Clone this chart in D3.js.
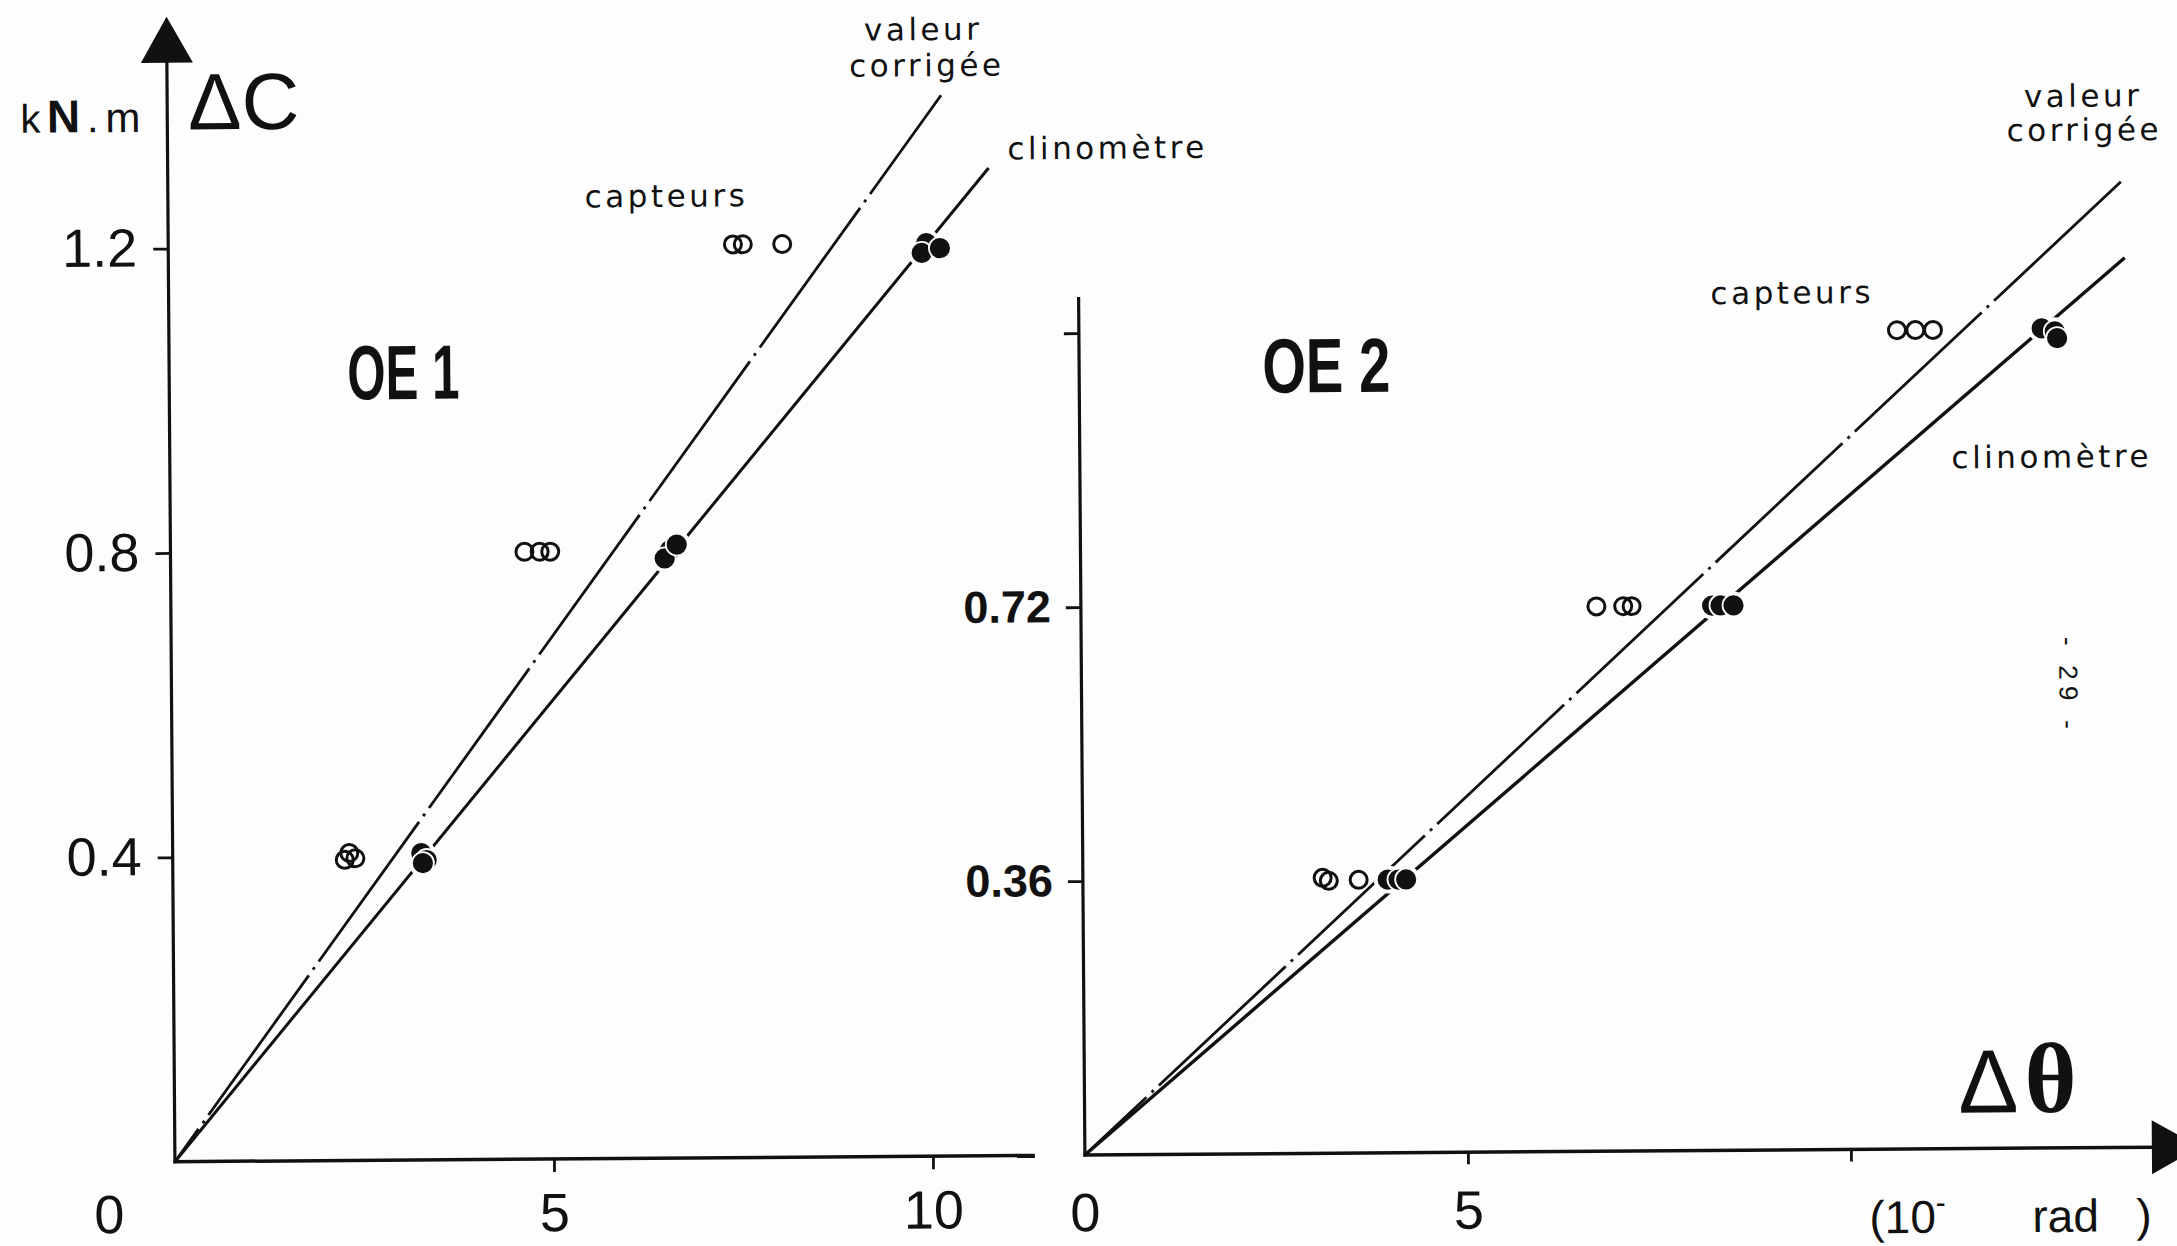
<!DOCTYPE html>
<html>
<head>
  <meta charset="utf-8">
  <title>OE 1 / OE 2</title>
  <script src="https://d3js.org/d3.v7.min.js"></script>
  <style>
    body { margin: 0; background: #fdfdfd; }
    svg { display: block; }
  </style>
</head>
<body>
  <div id="chart"></div>
  <script>
    // ticks
    const xTicksOE1 = [5, 10]
    const yTicksOE1 = [0.4, 0.8, 1.2]
    const xTicksOE2 = [5, 10]
    const xLabelsOE2 = [5]
    const yTicksOE2 = [0.36, 0.72, 1.08]
    const yLabelsOE2 = [0.36, 0.72]

    // OE 1 : [Δθ, ΔC]
    const capteursOE1 = [
      [7.45, 1.2], [7.58, 1.2], [8.1, 1.2],
      [4.67, 0.798], [4.87, 0.798], [5.01, 0.798],
      [2.27, 0.395], [2.33, 0.404], [2.41, 0.397]
    ]
    const clinoOE1 = [
      [10.0, 1.2], [9.94, 1.187], [10.18, 1.193],
      [6.59, 0.799], [6.52, 0.788], [6.68, 0.806],
      [3.28, 0.403], [3.35, 0.394], [3.3, 0.39]
    ]
    const valeurLineOE1 = [[0, 0], [10.21, 1.394]]
    const clinoLineOE1 = [[0, 0], [10.83, 1.298]]

    // OE 2 : [Δθ, ΔC]
    const capteursOE2 = [
      [10.68, 1.076], [10.92, 1.076], [11.15, 1.076],
      [6.73, 0.716], [7.08, 0.716], [7.19, 0.716],
      [3.13, 0.362], [3.21, 0.358], [3.6, 0.359]
    ]
    const clinoOE2 = [
      [12.57, 1.077], [12.74, 1.073], [12.77, 1.064],
      [8.24, 0.716], [8.35, 0.716], [8.52, 0.716],
      [3.98, 0.359], [4.12, 0.359], [4.22, 0.359]
    ]
    const valeurLineOE2 = [[0, 0], [13.67, 1.274]]
    const clinoLineOE2 = [[0, 0], [13.66, 1.169]]

    const W = 2177, H = 1246
    const ink = '#111'
    const paper = '#fdfdfd'
    const hand = "'DejaVu Sans', sans-serif"
    const sans = "'Liberation Sans', Arial, sans-serif"

    const svg = d3.select('#chart').append('svg')
      .attr('width', W)
      .attr('height', H)
    svg.append('rect').attr('width', W).attr('height', H).attr('fill', paper)

    // the scanned page is slightly tilted
    const root = svg.append('g').attr('transform', 'rotate(-0.42 1088 623)')

    const xL = d3.scaleLinear().domain([0, 10]).range([171, 929])
    const yL = d3.scaleLinear().domain([0, 1.2]).range([1155, 241.8])
    const xR = d3.scaleLinear().domain([0, 10]).range([1081, 1847])
    const yR = d3.scaleLinear().domain([0, 1.08]).range([1155, 333.1])

    function styleAxis(g, size, weight) {
      g.select('.domain').remove()
      g.attr('font-family', sans).attr('font-size', size).attr('font-weight', weight)
      g.selectAll('.tick line').attr('stroke', ink).attr('stroke-width', 2.8)
      g.selectAll('.tick text').attr('fill', ink)
    }

    // ---- axes OE 1
    root.append('line')
      .attr('x1', xL(0)).attr('y1', yL(0) + 1.5)
      .attr('x2', xL(0)).attr('y2', 40)
      .attr('stroke', ink).attr('stroke-width', 3.2)
    root.append('path')
      .attr('d', `M${xL(0)},10 L${xL(0) + 26},56 L${xL(0) - 26},56 Z`)
      .attr('fill', ink)
    root.append('line')
      .attr('x1', xL(0) - 1.5).attr('y1', yL(0))
      .attr('x2', 1031).attr('y2', yL(0))
      .attr('stroke', ink).attr('stroke-width', 3.5)

    root.append('g')
      .attr('transform', `translate(${xL(0)},0)`)
      .call(d3.axisLeft(yL).tickValues(yTicksOE1).tickSize(15).tickPadding(16).tickFormat(d3.format('.1f')))
      .call(g => styleAxis(g, 54, 'normal'))

    root.append('g')
      .attr('transform', `translate(0,${yL(0)})`)
      .call(d3.axisBottom(xL).tickValues(xTicksOE1).tickSize(13).tickPadding(21).tickFormat(d3.format('d')))
      .call(g => styleAxis(g, 54, 'normal'))

    root.append('text')
      .attr('x', xL(0) - 66).attr('y', 1226)
      .attr('text-anchor', 'middle')
      .attr('font-family', sans).attr('font-size', 54).attr('fill', ink)
      .text('0')

    // ---- axes OE 2
    root.append('line')
      .attr('x1', xR(0)).attr('y1', yR(0) + 1.5)
      .attr('x2', xR(0)).attr('y2', 297)
      .attr('stroke', ink).attr('stroke-width', 3.2)
    root.append('line')
      .attr('x1', xR(0) - 1.5).attr('y1', yR(0))
      .attr('x2', 2152).attr('y2', yR(0))
      .attr('stroke', ink).attr('stroke-width', 3.5)
    root.append('path')
      .attr('d', `M2196,${yR(0)} L2148,${yR(0) - 27} L2148,${yR(0) + 27} Z`)
      .attr('fill', ink)

    const fmt2 = d3.format('.2f')
    root.append('g')
      .attr('transform', `translate(${xR(0)},0)`)
      .call(d3.axisLeft(yR).tickValues(yTicksOE2).tickSize(15).tickPadding(15)
        .tickFormat(d => yLabelsOE2.includes(d) ? fmt2(d) : ''))
      .call(g => styleAxis(g, 45, 'bold'))

    root.append('g')
      .attr('transform', `translate(0,${yR(0)})`)
      .call(d3.axisBottom(xR).tickValues(xTicksOE2).tickSize(12).tickPadding(26)
        .tickFormat(d => xLabelsOE2.includes(d) ? d3.format('d')(d) : ''))
      .call(g => styleAxis(g, 54, 'normal'))

    root.append('text')
      .attr('x', xR(0)).attr('y', 1231)
      .attr('text-anchor', 'middle')
      .attr('font-family', sans).attr('font-size', 54).attr('fill', ink)
      .text('0')

    // unit of the horizontal axis
    const unit = root.append('text')
      .attr('x', 1865).attr('y', 1239)
      .attr('font-family', sans).attr('font-size', 46).attr('fill', ink)
    unit.append('tspan').text('(10')
    unit.append('tspan').attr('font-size', 30).attr('dy', -20).text('-')
    unit.append('tspan').attr('x', 2028).attr('dy', 20).text('rad')
    unit.append('tspan').attr('x', 2132).text(')')

    // vertical axis title
    const kn = root.append('text')
      .attr('x', 24).attr('y', 125)
      .attr('font-family', sans).attr('fill', ink)
      .attr('textLength', 120).attr('lengthAdjust', 'spacing')
    kn.append('tspan').attr('font-size', 40).text('k')
    kn.append('tspan').attr('font-size', 46).attr('font-weight', 'bold').text('N')
    kn.append('tspan').attr('font-size', 42).text('.m')

    root.append('text')
      .attr('x', 192).attr('y', 123)
      .attr('font-family', sans).attr('font-size', 80).attr('fill', ink)
      .text('ΔC')

    // ---- series
    function drawPanel(p) {
      const g = root.append('g')
      const line = d3.line().x(d => p.x(d[0])).y(d => p.y(d[1]))

      g.append('path').datum(p.valeurLine)
        .attr('d', line)
        .attr('fill', 'none').attr('stroke', ink).attr('stroke-width', 2.8)
        .attr('stroke-dasharray', p.dash).attr('stroke-dashoffset', p.dashOffset)

      g.append('path').datum(p.clinoLine)
        .attr('d', line)
        .attr('fill', 'none').attr('stroke', ink).attr('stroke-width', p.clinoWidth)

      g.selectAll('circle.halo').data(p.clino).join('circle')
        .attr('class', 'halo')
        .attr('cx', d => p.x(d[0])).attr('cy', d => p.y(d[1]))
        .attr('r', 14).attr('fill', paper)

      g.selectAll('circle.clino').data(p.clino).join('circle')
        .attr('class', 'clino')
        .attr('cx', d => p.x(d[0])).attr('cy', d => p.y(d[1]))
        .attr('r', 11).attr('fill', ink)
        .attr('stroke', paper).attr('stroke-width', 1.8)

      g.selectAll('circle.capt').data(p.capteurs).join('circle')
        .attr('class', 'capt')
        .attr('cx', d => p.x(d[0])).attr('cy', d => p.y(d[1]))
        .attr('r', 8.5).attr('fill', 'none')
        .attr('stroke', ink).attr('stroke-width', 3)

      // panel name
      g.append('text')
        .attr('x', p.x(p.name.at[0])).attr('y', p.y(p.name.at[1]))
        .attr('font-family', "'Liberation Sans Narrow', 'Liberation Sans', sans-serif")
        .attr('font-weight', 'bold').attr('font-size', 77).attr('fill', ink)
        .attr('textLength', p.name.len).attr('lengthAdjust', 'spacingAndGlyphs')
        .text(p.name.text)

      // handwritten notes, one text element per note, one line per tspan
      const notes = g.selectAll('text.note').data(p.notes).join('text')
        .attr('class', 'note')
        .attr('font-family', hand).attr('font-size', 31).attr('fill', ink)
        .attr('letter-spacing', 3.5)
      notes.selectAll('tspan').data(d => d.lines).join('tspan')
        .attr('x', d => p.x(d.at[0])).attr('y', d => p.y(d.at[1]))
        .text(d => d.text)
    }

    drawPanel({
      x: xL, y: yL,
      capteurs: capteursOE1, clino: clinoOE1,
      valeurLine: valeurLineOE1, clinoLine: clinoLineOE1,
      dash: '172 7 3 7', dashOffset: 131.5, clinoWidth: 3,
      name: { text: 'OE 1', at: [2.35, 1.0], len: 112 },
      notes: [
        { lines: [{ text: 'capteurs', at: [5.5, 1.25] }] },
        { lines: [{ text: 'valeur', at: [9.2, 1.4665] }, { text: 'corrigée', at: [9.0, 1.4192] }] },
        { lines: [{ text: 'clinomètre', at: [11.08, 1.309] }] }
      ]
    })

    drawPanel({
      x: xR, y: yR,
      capteurs: capteursOE2, clino: clinoOE2,
      valeurLine: valeurLineOE2, clinoLine: clinoLineOE2,
      dash: '174 7 3 7', dashOffset: 89.5, clinoWidth: 3.4,
      name: { text: 'OE 2', at: [2.39, 1.0], len: 128 },
      notes: [
        { lines: [{ text: 'capteurs', at: [8.25, 1.112] }] },
        { lines: [{ text: 'valeur', at: [12.36, 1.368] }, { text: 'corrigée', at: [12.13, 1.3232] }] },
        { lines: [{ text: 'clinomètre', at: [11.38, 0.894] }] }
      ]
    })

    // horizontal axis title
    const dt = root.append('text')
      .attr('x', xR(11.41)).attr('y', yR(0.047))
      .attr('fill', ink)
    dt.append('tspan').attr('font-family', sans).attr('font-size', 90).text('Δ')
    dt.append('tspan').attr('font-family', "'Liberation Serif', serif").attr('font-weight', 'bold')
      .attr('font-size', 100).attr('dx', 6).text('θ')

    // page number
    root.append('text')
      .attr('transform', 'translate(2068,690) rotate(90)')
      .attr('text-anchor', 'middle').attr('dy', '0.35em')
      .attr('font-family', sans).attr('font-size', 26).attr('fill', ink)
      .attr('textLength', 92).attr('lengthAdjust', 'spacing')
      .text('- 29 -')
  </script>
</body>
</html>
